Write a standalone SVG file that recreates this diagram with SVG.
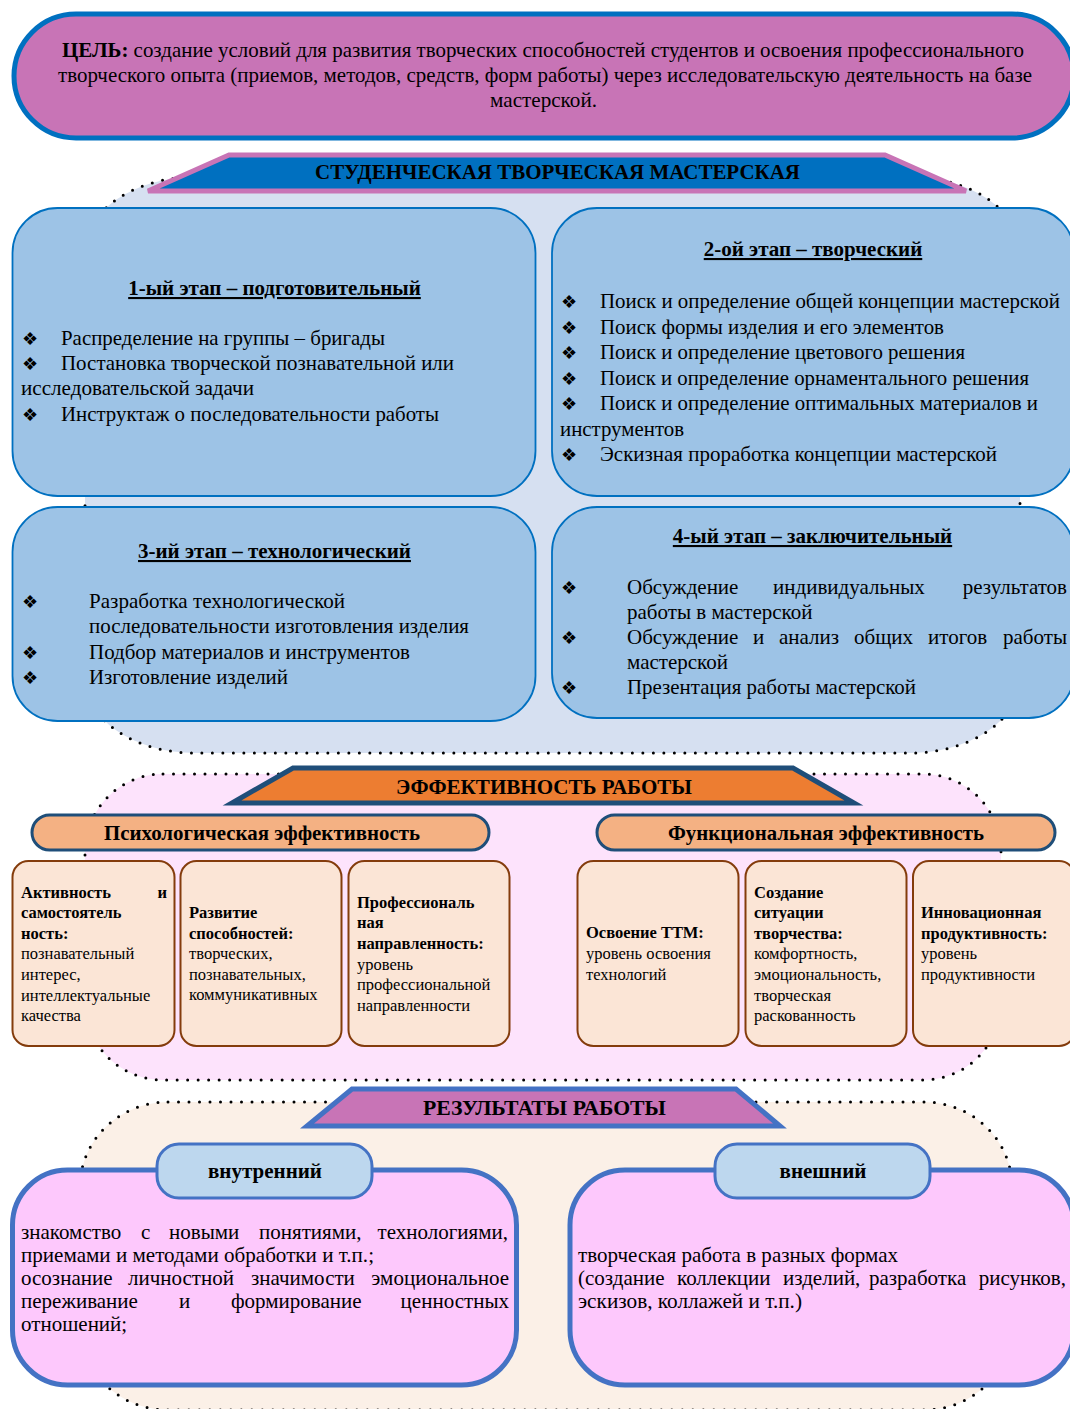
<svg xmlns="http://www.w3.org/2000/svg" width="1070" height="1409" viewBox="0 0 1070 1409">
<style>
text{font-family:"Liberation Serif","Times New Roman",serif;fill:#000}
.t{font-size:21px}
.b{font-weight:bold}
.u{text-decoration:underline}
.m{text-anchor:middle}
.e{text-anchor:end}
.bul{font-family:"DejaVu Sans",sans-serif;font-size:18px}
.sm{font-size:16.5px}
.dots{stroke:#000;stroke-width:3;stroke-dasharray:0 10.5;stroke-linecap:round}
.stage{fill:#9DC3E6;stroke:#0070C0;stroke-width:1.8}
.card{fill:#FBE5D6;stroke:#843C0C;stroke-width:2}
.pill{fill:#F4B183;stroke:#1F4E79;stroke-width:3}
.res{fill:#FDC8FC;stroke:#4472C4;stroke-width:5}
.tab{fill:#BDD7EE;stroke:#4472C4;stroke-width:3}
</style>
<rect width="1070" height="1409" fill="#fff"/>

<g id="regions">
<rect x="85" y="177" width="935" height="576" rx="110" ry="75" fill="#D6E0F1" class="dots"/>
<rect x="85" y="774" width="916" height="306" rx="78" ry="78" fill="#FDE3FC" class="dots"/>
<rect x="80" y="1102" width="932" height="308" rx="88" ry="85" fill="#FBF0E7" class="dots"/>
</g>

<g id="goal">
<rect x="14" y="14" width="1060" height="124" rx="62" ry="62" fill="#C874B6" stroke="#0070C0" stroke-width="5"/>
<text class="t" x="62" y="57" textLength="962" lengthAdjust="spacingAndGlyphs"><tspan class="b">ЦЕЛЬ:</tspan> создание условий для развития творческих способностей студентов и освоения профессионального</text>
<text class="t" x="58" y="82" textLength="974" lengthAdjust="spacingAndGlyphs">творческого опыта (приемов, методов, средств, форм работы) через исследовательскую деятельность на базе</text>
<text class="t" x="490" y="107" textLength="107" lengthAdjust="spacingAndGlyphs">мастерской.</text>
</g>

<g id="banner-workshop">
<polygon points="229,155 885,155 966,191 148,191" fill="#0070C0" stroke="#C874B6" stroke-width="5" stroke-linejoin="miter"/>
<text class="t b" x="315" y="179" textLength="485" lengthAdjust="spacingAndGlyphs">СТУДЕНЧЕСКАЯ ТВОРЧЕСКАЯ МАСТЕРСКАЯ</text>
</g>

<g id="stage1">
<rect class="stage" x="12.5" y="208" width="523" height="288" rx="45"/>
<text class="t b u m" x="274.5" y="295">1-ый этап – подготовительный</text>
<text class="bul" x="22" y="345">❖</text>
<text class="t" x="61" y="345" textLength="324" lengthAdjust="spacingAndGlyphs">Распределение на группы – бригады</text>
<text class="bul" x="22" y="370">❖</text>
<text class="t" x="61" y="370" textLength="393" lengthAdjust="spacingAndGlyphs">Постановка творческой познавательной или</text>
<text class="t" x="21" y="395" textLength="233" lengthAdjust="spacingAndGlyphs">исследовательской задачи</text>
<text class="bul" x="22" y="421">❖</text>
<text class="t" x="61" y="421" textLength="378" lengthAdjust="spacingAndGlyphs">Инструктаж о последовательности работы</text>
</g>

<g id="stage2">
<rect class="stage" x="552" y="208" width="522" height="288" rx="45"/>
<text class="t b u m" x="813" y="256">2-ой этап – творческий</text>
<text class="bul" x="561" y="308">❖</text>
<text class="t" x="600" y="308" textLength="460" lengthAdjust="spacingAndGlyphs">Поиск и определение общей концепции мастерской</text>
<text class="bul" x="561" y="333.5">❖</text>
<text class="t" x="600" y="333.5" textLength="344" lengthAdjust="spacingAndGlyphs">Поиск формы изделия и его элементов</text>
<text class="bul" x="561" y="359">❖</text>
<text class="t" x="600" y="359" textLength="365" lengthAdjust="spacingAndGlyphs">Поиск и определение цветового решения</text>
<text class="bul" x="561" y="384.5">❖</text>
<text class="t" x="600" y="384.5" textLength="429" lengthAdjust="spacingAndGlyphs">Поиск и определение орнаментального решения</text>
<text class="bul" x="561" y="410">❖</text>
<text class="t" x="600" y="410" textLength="438" lengthAdjust="spacingAndGlyphs">Поиск и определение оптимальных материалов и</text>
<text class="t" x="560" y="435.5" textLength="124" lengthAdjust="spacingAndGlyphs">инструментов</text>
<text class="bul" x="561" y="461">❖</text>
<text class="t" x="600" y="461" textLength="397" lengthAdjust="spacingAndGlyphs">Эскизная проработка концепции мастерской</text>
</g>

<g id="stage3">
<rect class="stage" x="12.5" y="507" width="523" height="214" rx="45"/>
<text class="t b u m" x="274.5" y="558">3-ий этап – технологический</text>
<text class="bul" x="22" y="608">❖</text>
<text class="t" x="89" y="608" textLength="256" lengthAdjust="spacingAndGlyphs">Разработка технологической</text>
<text class="t" x="89" y="633" textLength="380" lengthAdjust="spacingAndGlyphs">последовательности изготовления изделия</text>
<text class="bul" x="22" y="659">❖</text>
<text class="t" x="89" y="659" textLength="321" lengthAdjust="spacingAndGlyphs">Подбор материалов и инструментов</text>
<text class="bul" x="22" y="684">❖</text>
<text class="t" x="89" y="684" textLength="199" lengthAdjust="spacingAndGlyphs">Изготовление изделий</text>
</g>

<g id="stage4">
<rect class="stage" x="552" y="507" width="522" height="211" rx="45"/>
<text class="t b u m" x="812.5" y="543">4-ый этап – заключительный</text>
<text class="bul" x="561" y="594">❖</text>
<text class="t" x="627" y="594">Обсуждение</text>
<text class="t" x="773" y="594">индивидуальных</text>
<text class="t e" x="1067" y="594">результатов</text>
<text class="t" x="627" y="619">работы в мастерской</text>
<text class="bul" x="561" y="644">❖</text>
<text class="t" x="627" y="644">Обсуждение</text>
<text class="t" x="753" y="644">и</text>
<text class="t" x="779" y="644">анализ</text>
<text class="t" x="854" y="644">общих</text>
<text class="t" x="928" y="644">итогов</text>
<text class="t e" x="1067" y="644">работы</text>
<text class="t" x="627" y="669">мастерской</text>
<text class="bul" x="561" y="694">❖</text>
<text class="t" x="627" y="694" textLength="289" lengthAdjust="spacingAndGlyphs">Презентация работы мастерской</text>
</g>

<g id="banner-effect">
<polygon points="293,768 793,768 854,803 232,803" fill="#ED7D31" stroke="#1F4E79" stroke-width="5"/>
<text class="t b" x="396" y="794" textLength="296" lengthAdjust="spacingAndGlyphs">ЭФФЕКТИВНОСТЬ РАБОТЫ</text>
</g>

<g id="psy-header">
<rect class="pill" x="32" y="815" width="457" height="35" rx="17.5"/>
<text class="t b" x="104" y="840" textLength="316" lengthAdjust="spacingAndGlyphs">Психологическая эффективность</text>
</g>
<g id="fun-header">
<rect class="pill" x="597" y="815" width="458" height="35" rx="17.5"/>
<text class="t b" x="668" y="840" textLength="316" lengthAdjust="spacingAndGlyphs">Функциональная эффективность</text>
</g>

<g id="psy1">
<rect class="card" x="12.5" y="861" width="162" height="185" rx="16"/>
<text class="sm b" x="21" y="898">Активность</text>
<text class="sm b e" x="167" y="898">и</text>
<text class="sm b" x="21" y="918">самостоятель</text>
<text class="sm b" x="21" y="939">ность:</text>
<text class="sm" x="21" y="959">познавательный</text>
<text class="sm" x="21" y="980">интерес,</text>
<text class="sm" x="21" y="1001">интеллектуальные</text>
<text class="sm" x="21" y="1021">качества</text>
</g>
<g id="psy2">
<rect class="card" x="180.5" y="861" width="161" height="185" rx="16"/>
<text class="sm b" x="189" y="918">Развитие</text>
<text class="sm b" x="189" y="939">способностей:</text>
<text class="sm" x="189" y="959">творческих,</text>
<text class="sm" x="189" y="980">познавательных,</text>
<text class="sm" x="189" y="1000">коммуникативных</text>
</g>
<g id="psy3">
<rect class="card" x="348.5" y="861" width="161" height="185" rx="16"/>
<text class="sm b" x="357" y="908">Профессиональ</text>
<text class="sm b" x="357" y="928">ная</text>
<text class="sm b" x="357" y="949">направленность:</text>
<text class="sm" x="357" y="970">уровень</text>
<text class="sm" x="357" y="990">профессиональной</text>
<text class="sm" x="357" y="1011">направленности</text>
</g>
<g id="fun1">
<rect class="card" x="577.5" y="861" width="161" height="185" rx="16"/>
<text class="sm b" x="586" y="938">Освоение ТТМ:</text>
<text class="sm" x="586" y="959">уровень освоения</text>
<text class="sm" x="586" y="980">технологий</text>
</g>
<g id="fun2">
<rect class="card" x="745.5" y="861" width="161" height="185" rx="16"/>
<text class="sm b" x="754" y="898">Создание</text>
<text class="sm b" x="754" y="918">ситуации</text>
<text class="sm b" x="754" y="939">творчества:</text>
<text class="sm" x="754" y="959">комфортность,</text>
<text class="sm" x="754" y="980">эмоциональность,</text>
<text class="sm" x="754" y="1001">творческая</text>
<text class="sm" x="754" y="1021">раскованность</text>
</g>
<g id="fun3">
<rect class="card" x="913" y="861" width="162" height="185" rx="16"/>
<text class="sm b" x="921" y="918">Инновационная</text>
<text class="sm b" x="921" y="939">продуктивность:</text>
<text class="sm" x="921" y="959">уровень</text>
<text class="sm" x="921" y="980">продуктивности</text>
</g>

<g id="banner-results">
<polygon points="352,1089 736,1089 780,1126 307,1126" fill="#C874B6" stroke="#4472C4" stroke-width="5"/>
<text class="t b" x="423" y="1115" textLength="243" lengthAdjust="spacingAndGlyphs">РЕЗУЛЬТАТЫ РАБОТЫ</text>
</g>

<g id="internal">
<rect class="res" x="12.5" y="1170" width="504" height="215" rx="55"/>
<rect class="tab" x="157" y="1144" width="215" height="54" rx="22"/>
<text class="t b m" x="265" y="1178">внутренний</text>
<text class="t" x="21" y="1239">знакомство</text>
<text class="t" x="141" y="1239">с</text>
<text class="t" x="169" y="1239">новыми</text>
<text class="t" x="259" y="1239">понятиями,</text>
<text class="t e" x="508" y="1239">технологиями,</text>
<text class="t" x="21" y="1262" textLength="353" lengthAdjust="spacingAndGlyphs">приемами и методами обработки и т.п.;</text>
<text class="t" x="21" y="1285">осознание</text>
<text class="t" x="128" y="1285">личностной</text>
<text class="t" x="251" y="1285">значимости</text>
<text class="t e" x="509" y="1285">эмоциональное</text>
<text class="t" x="21" y="1308">переживание</text>
<text class="t" x="179" y="1308">и</text>
<text class="t" x="231" y="1308">формирование</text>
<text class="t e" x="509" y="1308">ценностных</text>
<text class="t" x="21" y="1331">отношений;</text>
</g>

<g id="external">
<rect class="res" x="570" y="1170" width="504" height="215" rx="55"/>
<rect class="tab" x="715" y="1144" width="215" height="54" rx="22"/>
<text class="t b m" x="823" y="1178">внешний</text>
<text class="t" x="578" y="1262" textLength="320" lengthAdjust="spacingAndGlyphs">творческая работа в разных формах</text>
<text class="t" x="578" y="1285">(создание</text>
<text class="t" x="677" y="1285">коллекции</text>
<text class="t" x="783" y="1285">изделий,</text>
<text class="t" x="869" y="1285">разработка</text>
<text class="t e" x="1066" y="1285">рисунков,</text>
<text class="t" x="578" y="1308" textLength="224" lengthAdjust="spacingAndGlyphs">эскизов, коллажей и т.п.)</text>
</g>

<g id="connectors"></g>
</svg>
